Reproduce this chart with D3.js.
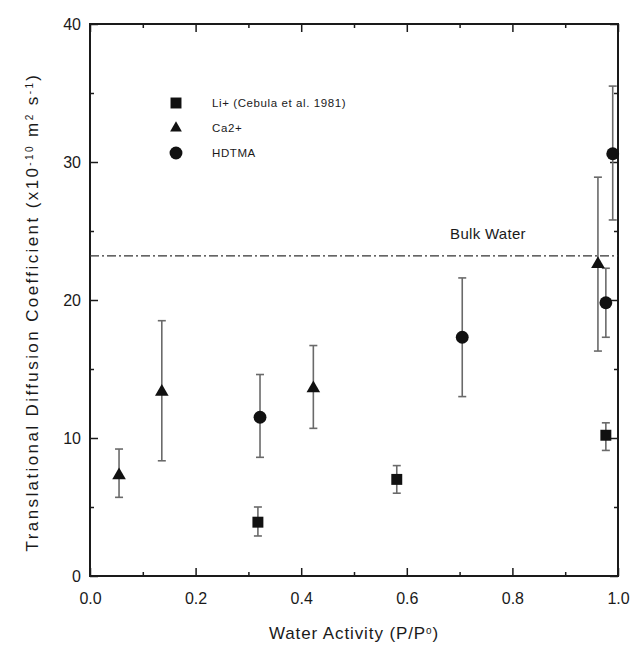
<!DOCTYPE html>
<html>
<head>
<meta charset="utf-8">
<script src="https://cdn.jsdelivr.net/npm/d3@7"></script>
<style>
  html, body { margin: 0; padding: 0; background: #fff; }
  svg { display: block; font-family: "Liberation Sans", Arial, sans-serif; }
</style>
</head>
<body>
<svg id="chart" width="632" height="647"></svg>
<script>
// Li+ (Cebula et al. 1981)
const liX  = [0.318, 0.581, 0.977];
const liY  = [3.9, 7.0, 10.2];
const liLo = [2.9, 6.0, 9.1];
const liHi = [5.0, 8.0, 11.1];

// Ca2+
const caX  = [0.055, 0.136, 0.423, 0.962];
const caY  = [7.3, 13.35, 13.6, 22.6];
const caLo = [5.7, 8.35, 10.7, 16.3];
const caHi = [9.2, 18.5, 16.7, 28.9];

// HDTMA
const hdX  = [0.322, 0.705, 0.977, 0.99];
const hdY  = [11.5, 17.3, 19.8, 30.6];
const hdLo = [8.6, 13.0, 17.3, 25.8];
const hdHi = [14.6, 21.6, 22.3, 35.5];

// reference level for bulk water
const bulkWater = 23.2;

const xTicks = [0, 0.2, 0.4, 0.6, 0.8, 1.0];
const xMinor = [0.1, 0.3, 0.5, 0.7, 0.9];
const yTicks = [0, 10, 20, 30, 40];
const yMinor = [5, 15, 25, 35];

const legendLabels = ["Li+ (Cebula et al. 1981)", "Ca2+", "HDTMA"];

const svg = d3.select("#chart");
const m = { left: 90, top: 24, right: 14, bottom: 71 };
const W = 632 - m.left - m.right;
const H = 647 - m.top - m.bottom;

const x = d3.scaleLinear().domain([0, 1]).range([0, W]);
const y = d3.scaleLinear().domain([0, 40]).range([H, 0]);

const g = svg.append("g").attr("transform", `translate(${m.left},${m.top})`);

const ink = "#1a1a1a";

// frame
g.append("rect").attr("x", 0).attr("y", 0).attr("width", W).attr("height", H)
  .attr("fill", "none").attr("stroke", ink).attr("stroke-width", 2);

function styleAxis(sel, fontSize) {
  sel.select(".domain").remove();
  sel.selectAll(".tick line").attr("stroke", ink).attr("stroke-width", 1.5);
  sel.selectAll(".tick text").attr("fill", ink).style("font-size", fontSize + "px");
}

// bottom axis with labels, inward ticks
g.append("g").attr("transform", `translate(0,${H})`)
  .call(d3.axisBottom(x).tickValues(xTicks).tickSize(-8).tickPadding(17).tickFormat(d3.format(".1f")))
  .call(s => styleAxis(s, 16));
g.append("g").attr("transform", `translate(0,${H})`)
  .call(d3.axisBottom(x).tickValues(xMinor).tickSize(-4).tickFormat(""))
  .call(s => styleAxis(s, 16));
// top axis ticks
g.append("g")
  .call(d3.axisTop(x).tickValues(xTicks).tickSize(-8).tickFormat(""))
  .call(s => styleAxis(s, 16));
g.append("g")
  .call(d3.axisTop(x).tickValues(xMinor).tickSize(-4).tickFormat(""))
  .call(s => styleAxis(s, 16));

// left axis
g.append("g")
  .call(d3.axisLeft(y).tickValues(yTicks).tickSize(-8).tickPadding(9).tickFormat(d3.format("d")))
  .call(s => styleAxis(s, 16));
g.append("g")
  .call(d3.axisLeft(y).tickValues(yMinor).tickSize(-4).tickFormat(""))
  .call(s => styleAxis(s, 16));
// right axis ticks
g.append("g").attr("transform", `translate(${W},0)`)
  .call(d3.axisRight(y).tickValues(yTicks).tickSize(-8).tickFormat(""))
  .call(s => styleAxis(s, 16));
g.append("g").attr("transform", `translate(${W},0)`)
  .call(d3.axisRight(y).tickValues(yMinor).tickSize(-4).tickFormat(""))
  .call(s => styleAxis(s, 16));

// bulk water reference line
g.append("line")
  .attr("x1", 0).attr("x2", W).attr("y1", y(bulkWater)).attr("y2", y(bulkWater))
  .attr("stroke", "#333").attr("stroke-width", 1.3).attr("stroke-dasharray", "9,3,2,3");
g.append("text").attr("x", x(0.682)).attr("y", y(bulkWater) - 17)
  .attr("fill", ink).style("font-size", "15px").style("letter-spacing", "0.3px").text("Bulk Water");

// error bars
const errColor = "#6a6a6a";
function errorBars(xs, lo, hi) {
  const eb = g.append("g").attr("stroke", errColor).attr("stroke-width", 1.6);
  xs.forEach((xv, i) => {
    const cx = x(xv);
    eb.append("line").attr("x1", cx).attr("x2", cx).attr("y1", y(lo[i])).attr("y2", y(hi[i]));
    eb.append("line").attr("x1", cx - 4).attr("x2", cx + 4).attr("y1", y(lo[i])).attr("y2", y(lo[i]));
    eb.append("line").attr("x1", cx - 4).attr("x2", cx + 4).attr("y1", y(hi[i])).attr("y2", y(hi[i]));
  });
}
errorBars(liX, liLo, liHi);
errorBars(caX, caLo, caHi);
errorBars(hdX, hdLo, hdHi);

// markers
const symSquare = d3.symbol().type(d3.symbolSquare).size(120);
const symTri = d3.symbol().type(d3.symbolTriangle).size(80);
const symCircle = d3.symbol().type(d3.symbolCircle).size(130);

function markers(xs, ys, sym) {
  g.append("g").selectAll("path").data(xs).join("path")
    .attr("d", sym)
    .attr("transform", (d, i) => `translate(${x(d)},${y(ys[i])})`)
    .attr("fill", "#111");
}
markers(liX, liY, symSquare);
markers(caX, caY, symTri);
markers(hdX, hdY, symCircle);

// legend
const legendSyms = [symSquare, d3.symbol().type(d3.symbolTriangle).size(60), symCircle];
const lg = svg.append("g").attr("transform", "translate(176,103)");
legendLabels.forEach((lab, i) => {
  const yy = [0, 25, 50][i];
  lg.append("path").attr("d", legendSyms[i]).attr("transform", `translate(0,${yy})`).attr("fill", "#111");
  lg.append("text").attr("x", 36).attr("y", yy).attr("dy", "0.35em")
    .attr("fill", ink).style("font-size", "11.5px").style("letter-spacing", "0.6px").text(lab);
});

// axis titles
const xt = svg.append("text").attr("x", m.left + W / 2).attr("y", 639)
  .attr("text-anchor", "middle").attr("fill", ink)
  .style("font-size", "17px").style("letter-spacing", "0.9px");
xt.append("tspan").text("Water Activity (P/P");
xt.append("tspan").attr("baseline-shift", "super").style("font-size", "10px").text("o");
xt.append("tspan").text(")");

const yt = svg.append("text")
  .attr("transform", `translate(38,${m.top + H / 2 + 12}) rotate(-90)`)
  .attr("text-anchor", "middle").attr("fill", ink)
  .style("font-size", "17px").style("letter-spacing", "2.4px");
yt.append("tspan").text("Translational Diffusion Coefficient (x10");
yt.append("tspan").attr("baseline-shift", "super").style("font-size", "10px").text("-10");
yt.append("tspan").text(" m");
yt.append("tspan").attr("baseline-shift", "super").style("font-size", "10px").text("2");
yt.append("tspan").text(" s");
yt.append("tspan").attr("baseline-shift", "super").style("font-size", "10px").text("-1");
yt.append("tspan").text(")");
</script>
</body>
</html>
